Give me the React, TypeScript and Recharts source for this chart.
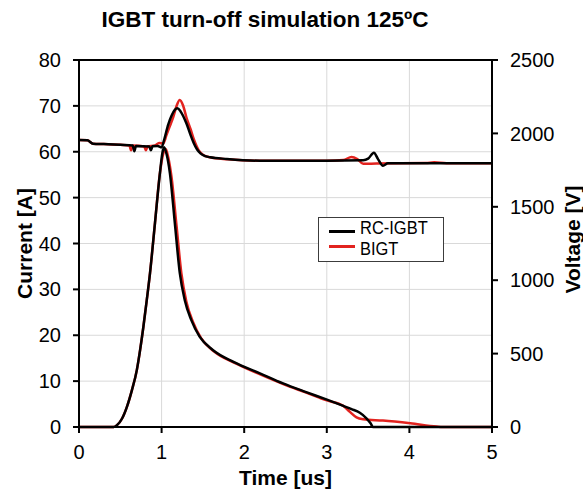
import React from 'react';
import {
  ComposedChart,
  Line,
  XAxis,
  YAxis,
  CartesianGrid,
  ReferenceLine,
  Legend,
  Label,
} from 'recharts';

// ---- data (time in us) ----
const timeTicks = [0, 1, 2, 3, 4, 5];
const currentTicks = [0, 10, 20, 30, 40, 50, 60, 70, 80];
const voltageTicks = [0, 500, 1000, 1500, 2000, 2500];

// RC-IGBT current [A]
const rcIgbtCurrent: [number, number][] = [
  [0, 0], [0.42, 0], [0.46, 0.4], [0.52, 1.8], [0.58, 4.4], [0.64, 8.0],
  [0.70, 12.4], [0.74, 16.8], [0.78, 21.9], [0.82, 27.6], [0.86, 33.6],
  [0.92, 44.5], [0.98, 55.4], [1.01, 59.8], [1.03, 61.0], [1.06, 59.5],
  [1.10, 55.4], [1.16, 44.5], [1.22, 33.6], [1.28, 27.7], [1.36, 23.3],
  [1.46, 19.7], [1.62, 16.8], [1.87, 14.2], [2.19, 11.7], [2.47, 9.5],
  [2.75, 7.6], [3.01, 5.9], [3.2, 4.6], [3.3, 3.9], [3.4, 3.1],
  [3.48, 1.9], [3.53, 0.8], [3.56, 0], [5, 0],
];

// BIGT current [A]
const bigtCurrent: [number, number][] = [
  [0, 0], [0.42, 0], [0.46, 0.4], [0.52, 1.8], [0.58, 4.4], [0.64, 8.0],
  [0.70, 12.4], [0.74, 16.8], [0.78, 21.9], [0.82, 27.6], [0.86, 33.6],
  [0.92, 44.5], [0.98, 55.4], [1.02, 59.6], [1.05, 60.6], [1.08, 58.8],
  [1.12, 54.5], [1.18, 44.0], [1.24, 33.4], [1.30, 27.3], [1.38, 22.9],
  [1.48, 19.3], [1.64, 16.4], [1.89, 13.9], [2.2, 11.4], [2.48, 9.3],
  [2.75, 7.5], [3.0, 5.8], [3.2, 4.6], [3.28, 3.3], [3.36, 2.1],
  [3.44, 1.7], [3.68, 1.4], [4.01, 0.8], [4.33, 0.1], [4.4, 0], [5, 0],
];

// RC-IGBT voltage [V]
const rcIgbtVoltage: [number, number][] = [
  [0, 1955], [0.1, 1953], [0.17, 1930], [0.3, 1927], [0.5, 1922],
  [0.65, 1918], [0.67, 1878], [0.69, 1915], [0.85, 1911], [0.87, 1885],
  [0.89, 1912], [0.95, 1915], [1.0, 1905], [1.03, 1955], [1.08, 2060],
  [1.12, 2120], [1.16, 2160], [1.19, 2171], [1.23, 2150], [1.30, 2069],
  [1.35, 1990], [1.39, 1933], [1.43, 1890], [1.47, 1864], [1.53, 1845],
  [1.59, 1837], [1.79, 1826], [2.19, 1814], [3.0, 1814], [3.44, 1817],
  [3.5, 1828], [3.57, 1868], [3.62, 1825], [3.68, 1780], [3.74, 1796],
  [4.0, 1796], [5, 1796],
];

// BIGT voltage [V]
const bigtVoltage: [number, number][] = [
  [0, 1955], [0.1, 1953], [0.17, 1930], [0.3, 1927], [0.5, 1922],
  [0.61, 1918], [0.63, 1885], [0.65, 1918], [0.79, 1911], [0.81, 1885],
  [0.83, 1911], [0.92, 1918], [0.97, 1935], [1.02, 1930], [1.06, 1990],
  [1.10, 2050], [1.14, 2110], [1.18, 2185], [1.22, 2228], [1.26, 2190],
  [1.30, 2110], [1.35, 2030], [1.39, 1960], [1.45, 1884], [1.50, 1855],
  [1.58, 1838], [1.8, 1824], [2.2, 1813], [3.0, 1814], [3.2, 1818],
  [3.30, 1840], [3.37, 1825], [3.44, 1793], [3.6, 1795], [4.2, 1798],
  [4.3, 1803], [4.45, 1797], [5, 1796],
];

const toPts = (arr: [number, number][]) => arr.map(([t, v]) => ({ t, v }));

const FONT = '"Liberation Sans", Arial, sans-serif';
const RED = '#e2231f';

const legendText: React.CSSProperties = {
  position: 'absolute',
  left: 41,
  lineHeight: '16px',
  whiteSpace: 'nowrap',
  transform: 'scaleX(0.89)',
  transformOrigin: '0 50%',
};

const renderLegend = () => (
  <div
    style={{
      position: 'relative',
      width: 126,
      height: 45,
      boxSizing: 'border-box',
      border: '1.5px solid #3c3c3c',
      background: '#fff',
      fontFamily: FONT,
      fontSize: 18.5,
      color: '#000',
    }}
  >
    <div style={{ position: 'absolute', left: 10, top: 12, width: 26, height: 3, background: '#000' }} />
    <div style={{ position: 'absolute', left: 10, top: 27, width: 26, height: 3, background: RED }} />
    <div style={{ ...legendText, top: 2 }}>RC-IGBT</div>
    <div style={{ ...legendText, top: 23 }}>BIGT</div>
  </div>
);

const tickStyle = { fontSize: 20, fill: '#000', fontFamily: FONT };
const axisTitleStyle = { fontSize: 21, fontWeight: 'bold', fill: '#000', fontFamily: FONT };

export default function App() {
  return (
    <div style={{ position: 'absolute', left: 0, top: 0, width: 583, height: 490, background: '#fff' }}>
      <div
        style={{
          position: 'absolute',
          left: 0,
          top: 7,
          width: 530,
          textAlign: 'center',
          fontFamily: FONT,
          fontWeight: 'bold',
          fontSize: 22.5,
          lineHeight: '26px',
          color: '#000',
        }}
      >
        IGBT turn-off simulation 125ºC
      </div>
      <ComposedChart width={583} height={490} margin={{ top: 60, right: 0, bottom: 0, left: 0 }}>
        <CartesianGrid yAxisId="left" stroke="#d9d9d9" strokeWidth={1} />
        <XAxis
          dataKey="t"
          type="number"
          domain={[0, 5]}
          ticks={timeTicks}
          height={63}
          tick={tickStyle}
          tickSize={6}
          tickMargin={12}
          axisLine={{ stroke: '#000', strokeWidth: 2 }}
          tickLine={{ stroke: '#000', strokeWidth: 2 }}
          allowDuplicatedCategory={false}
        >
          <Label value="Time [us]" position="center" dy={19} style={axisTitleStyle} />
        </XAxis>
        <YAxis
          yAxisId="left"
          type="number"
          domain={[0, 80]}
          ticks={currentTicks}
          width={79}
          tick={tickStyle}
          tickSize={6}
          tickMargin={12}
          axisLine={{ stroke: '#000', strokeWidth: 2 }}
          tickLine={{ stroke: '#000', strokeWidth: 2 }}
        >
          <Label value="Current [A]" angle={-90} position="center" dx={-15} style={axisTitleStyle} />
        </YAxis>
        <YAxis
          yAxisId="right"
          orientation="right"
          type="number"
          domain={[0, 2500]}
          ticks={voltageTicks}
          width={91}
          tick={tickStyle}
          tickSize={6}
          tickMargin={12}
          axisLine={{ stroke: '#000', strokeWidth: 2 }}
          tickLine={{ stroke: '#000', strokeWidth: 2 }}
        >
          <Label value="Voltage [V]" angle={-90} position="center" dx={35} dy={-4} style={axisTitleStyle} />
        </YAxis>
        <ReferenceLine yAxisId="left" y={80} stroke="#000" strokeWidth={2} />
        <Line
          yAxisId="left"
          data={toPts(bigtCurrent)}
          dataKey="v"
          type="monotone"
          stroke={RED}
          strokeWidth={2.5}
          dot={false}
          activeDot={false}
          isAnimationActive={false}
          name="BIGT"
        />
        <Line
          yAxisId="right"
          data={toPts(bigtVoltage)}
          dataKey="v"
          type="monotone"
          stroke={RED}
          strokeWidth={2.5}
          dot={false}
          activeDot={false}
          isAnimationActive={false}
          name="BIGT V"
        />
        <Line
          yAxisId="left"
          data={toPts(rcIgbtCurrent)}
          dataKey="v"
          type="monotone"
          stroke="#000"
          strokeWidth={2.5}
          dot={false}
          activeDot={false}
          isAnimationActive={false}
          name="RC-IGBT"
        />
        <Line
          yAxisId="right"
          data={toPts(rcIgbtVoltage)}
          dataKey="v"
          type="monotone"
          stroke="#000"
          strokeWidth={2.5}
          dot={false}
          activeDot={false}
          isAnimationActive={false}
          name="RC-IGBT V"
        />
        <Legend
          layout="horizontal"
          verticalAlign="middle"
          align="center"
          content={renderLegend}
          wrapperStyle={{ left: 318, top: 217, width: 126, height: 45 }}
        />
      </ComposedChart>
    </div>
  );
}
